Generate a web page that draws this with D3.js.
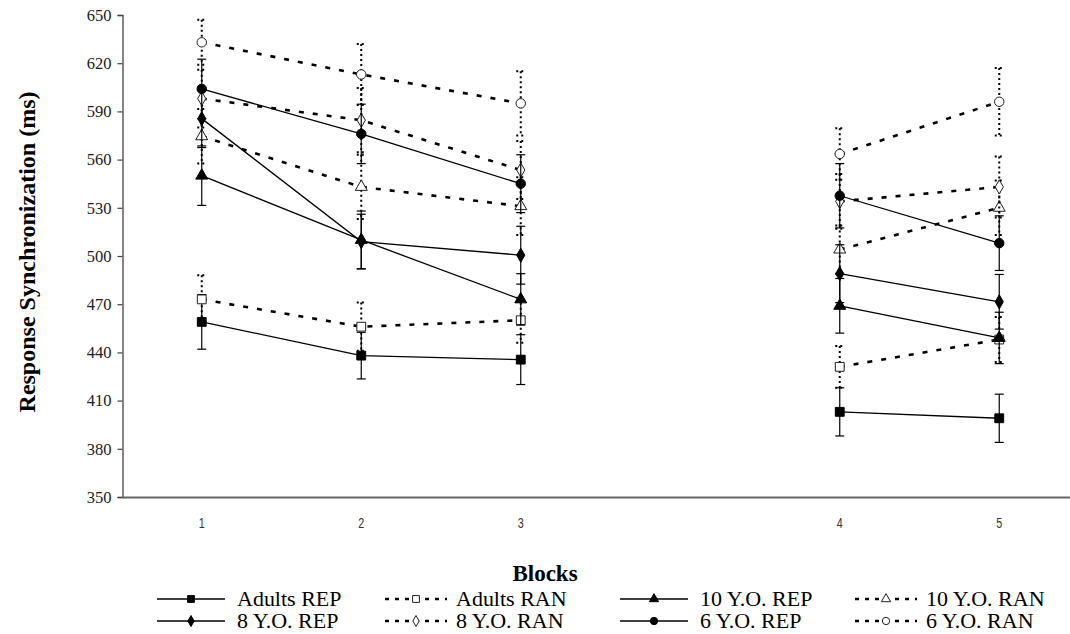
<!DOCTYPE html>
<html>
<head>
<meta charset="utf-8">
<script src="https://cdn.jsdelivr.net/npm/d3@7"></script>
<style>
  html, body { margin: 0; padding: 0; background: #fff; }
  svg { display: block; }
  .serif { font-family: 'Liberation Serif', 'Times New Roman', serif; }
</style>
</head>
<body>
<svg id="chart" width="1070" height="634"></svg>
<script>
// ---- data ----
const slots = ["1", "2", "3", "", "4", "5"];          // x categories (blank slot = gap)
const blocks = ["1", "2", "3", "4", "5"];
const sessions = [1, 1, 1, 2, 2];
const yTicks = [350, 380, 410, 440, 470, 500, 530, 560, 590, 620, 650];

const seriesNames = ["Adults REP", "Adults RAN", "10 Y.O. REP", "10 Y.O. RAN",
                     "8 Y.O. REP", "8 Y.O. RAN", "6 Y.O. REP", "6 Y.O. RAN"];
const adultsREP = [459, 438, 435.5, 403, 399];
const adultsRAN = [473, 456, 460, 431, 448];
const y10REP   = [550, 510, 473, 469, 449];
const y10RAN   = [574.5, 543, 531, 504, 530];
const y8REP    = [585.5, 509, 500.5, 489, 471.5];
const y8RAN    = [598, 584.5, 553.5, 534, 543];
const y6REP    = [604, 576, 545, 537.5, 508];
const y6RAN    = [633, 613, 595, 563.5, 596];

const adultsREPerr = [17, 14.5, 15.5, 15, 15];
const adultsRANerr = [15, 15, 14, 13, 14];
const y10REPerr    = [18.5, 18, 16, 17, 16];
const y10RANerr    = [17, 20, 18, 15, 17];
const y8REPerr     = [18, 17, 18, 18, 17];
const y8RANerr     = [18, 20, 18, 17, 19];
const y6REPerr     = [18.5, 18.5, 18, 20, 17];
const y6RANerr     = [14, 19, 20, 16, 21];

const seriesValues = [adultsREP, adultsRAN, y10REP, y10RAN, y8REP, y8RAN, y6REP, y6RAN];
const seriesErrors = [adultsREPerr, adultsRANerr, y10REPerr, y10RANerr, y8REPerr, y8RANerr, y6REPerr, y6RANerr];
const seriesShapes = ["square", "square", "triangle", "triangle", "diamond", "diamond", "circle", "circle"];
const seriesRandom = [false, true, false, true, false, true, false, true];

// ---- scales ----
const svg = d3.select("#chart");
const x = d3.scaleBand().domain(slots).range([122, 1079]).padding(0);
const y = d3.scaleLinear().domain([350, 650]).range([497, 15]);
const cx = b => x(b) + x.bandwidth() / 2;

const symbolTypes = {
  square: d3.symbolSquare, triangle: d3.symbolTriangle,
  diamond: d3.symbolDiamond, circle: d3.symbolCircle
};
const symbolSizes = { square: 78, triangle: 62, diamond: 58, circle: 70 };
const SERIF = "'Liberation Serif', 'Times New Roman', serif";

// ---- axes ----
const yAxis = d3.axisLeft(y).tickValues(yTicks).tickSize(5).tickPadding(6).tickFormat(d3.format("d"));
const gy = svg.append("g").attr("transform", "translate(122.5,0)").call(yAxis)
  .attr("font-family", SERIF).attr("font-size", 16.5);
gy.select(".domain").attr("stroke", "#444").attr("stroke-width", 1.3);
gy.selectAll(".tick line").attr("stroke", "#444").attr("stroke-width", 1.2);
gy.selectAll(".tick text")
  .style("font-family", SERIF)
  .style("font-size", "16.5px").attr("fill", "#222");

const xAxis = d3.axisBottom(x).tickValues(blocks).tickSize(0).tickPadding(0);
const gx = svg.append("g").attr("transform", "translate(0,497)").call(xAxis);
gx.select(".domain").attr("stroke", "#666").attr("stroke-width", 1.8);
gx.selectAll(".tick text")
  .style("font-family", "'Liberation Sans', Arial, sans-serif")
  .style("font-size", "15px").attr("fill", "#333")
  .attr("dy", null).attr("y", 0)
  .attr("transform", "translate(0,31) scale(0.72,1)");

// axis titles
svg.append("text")
  .attr("transform", "translate(35,252) rotate(-90)")
  .attr("text-anchor", "middle")
  .style("font-family", SERIF)
  .attr("font-weight", "bold").style("font-size", "24px")
  .text("Response Synchronization (ms)");

svg.append("text")
  .attr("x", 545).attr("y", 581)
  .attr("text-anchor", "middle")
  .style("font-family", SERIF)
  .attr("font-weight", "bold").style("font-size", "23px")
  .text("Blocks");

// ---- plot series ----
const plot = svg.append("g");
const line = d3.line().x(d => cx(d.b)).y(d => y(d.v));

seriesValues.forEach((vals, si) => {
  const g = plot.append("g");
  const rand = seriesRandom[si];
  const pts = vals.map((v, i) => ({ b: blocks[i], v, e: seriesErrors[si][i], s: sessions[i] }));

  // error bars
  const eb = g.append("g")
    .attr("stroke", "#000")
    .attr("stroke-width", rand ? 2 : 1.2)
    .attr("stroke-dasharray", rand ? "2,3" : null)
    .attr("fill", "none");
  pts.forEach(p => {
    const xx = cx(p.b);
    eb.append("line").attr("x1", xx).attr("x2", xx).attr("y1", y(p.v + p.e)).attr("y2", y(p.v - p.e));
    [p.v + p.e, p.v - p.e].forEach(t => {
      eb.append("line").attr("x1", xx - 4.5).attr("x2", xx + 4.5).attr("y1", y(t)).attr("y2", y(t));
    });
  });

  // lines by session
  d3.groups(pts, p => p.s).forEach(([, seg]) => {
    g.append("path").datum(seg)
      .attr("d", line)
      .attr("fill", "none")
      .attr("stroke", "#000")
      .attr("stroke-width", rand ? 2.6 : 1.3)
      .attr("stroke-dasharray", rand ? "5,9" : null);
  });

  // markers
  const shape = seriesShapes[si];
  g.selectAll("path.mk").data(pts).join("path").attr("class", "mk")
    .attr("transform", d => `translate(${cx(d.b)},${y(d.v)})`)
    .attr("d", d3.symbol().type(symbolTypes[shape]).size(symbolSizes[shape]))
    .attr("fill", rand ? "#fff" : "#000")
    .attr("stroke", rand ? "#222" : "#000")
    .attr("stroke-width", 1);
});

// ---- legend ----
const legendCols = [157, 385, 620, 855];
const legendRows = [599, 621];
const legend = svg.append("g");
seriesNames.forEach((name, si) => {
  const col = si % 4, row = Math.floor(si / 4);
  const x0 = legendCols[col], yy = legendRows[row];
  const rand = seriesRandom[si];
  const g = legend.append("g").attr("transform", `translate(${x0},${yy})`);
  g.append("line").attr("x1", 0).attr("x2", rand ? 62 : 68).attr("y1", 0).attr("y2", 0)
    .attr("stroke", "#000").attr("stroke-width", rand ? 2.5 : 1.3)
    .attr("stroke-dasharray", rand ? "4,6" : null);
  const shape = seriesShapes[si];
  g.append("path")
    .attr("transform", `translate(${rand ? 31 : 34},0)`)
    .attr("d", d3.symbol().type(symbolTypes[shape]).size(symbolSizes[shape] * 0.6))
    .attr("fill", rand ? "#fff" : "#000")
    .attr("stroke", rand ? "#222" : "#000").attr("stroke-width", 1);
  g.append("text")
    .attr("transform", `translate(${rand ? 71 : 80},0) scale(1.1,1)`)
    .attr("dy", "0.35em")
    .style("font-family", SERIF)
    .style("font-size", "20px").attr("fill", "#000")
    .text(name);
});
</script>
</body>
</html>
